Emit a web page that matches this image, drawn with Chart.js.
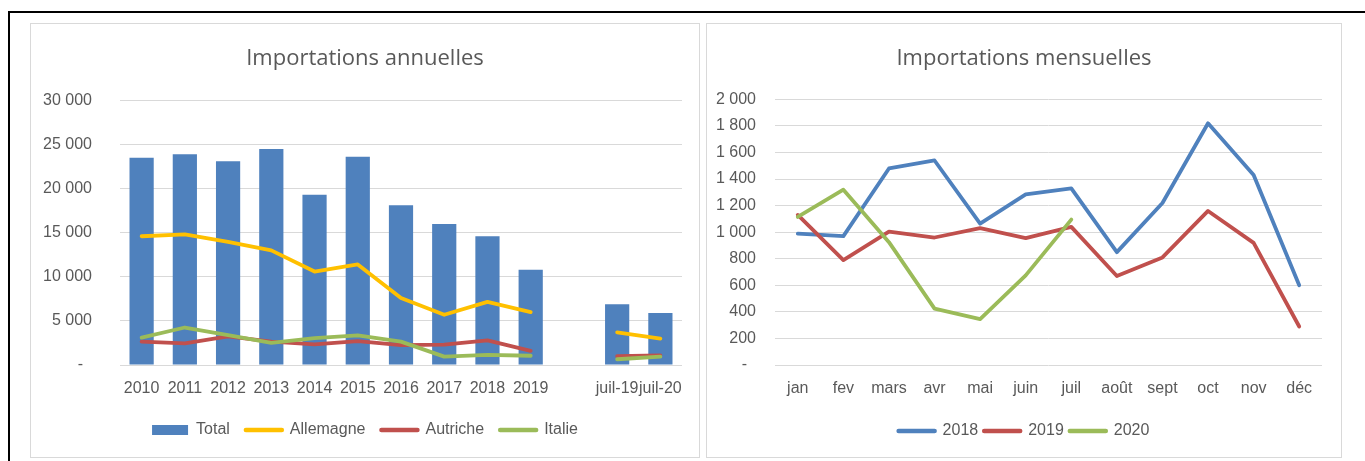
<!DOCTYPE html>
<html>
<head>
<meta charset="utf-8">
<script src="https://cdn.jsdelivr.net/npm/chart.js@4.4.0/dist/chart.umd.min.js"></script>
<style>
  html, body { margin: 0; padding: 0; background: #fff; }
  body { width: 1365px; height: 461px; overflow: hidden; position: relative; }
  .frame { position: absolute; left: 8px; top: 11px; width: 1420px; height: 520px; border: 2px solid #000; }
  .panel { position: absolute; top: 23px; height: 435px; border: 1px solid #d9d9d9; box-sizing: border-box; background: #fff; }
  .panel canvas { display: block; }
  #panelYear { left: 30px; width: 670px; }
  #panelMonth { left: 706px; width: 636px; }
</style>
</head>
<body>
<div class="frame"></div>
<div class="panel" id="panelYear"><canvas id="yearchart" width="668" height="433"></canvas></div>
<div class="panel" id="panelMonth"><canvas id="monthchart" width="634" height="433"></canvas></div>

<script>
// ==========================================================================
// Data
// ==========================================================================
var yearLabels = ['2010', '2011', '2012', '2013', '2014', '2015', '2016', '2017', '2018', '2019', '', 'juil-19', 'juil-20'];
var totalValues = [23500, 23900, 23100, 24500, 19300, 23600, 18100, 16000, 14600, 10800, null, 6900, 5900];
var allemagneValues = [14600, 14800, 13950, 13000, 10600, 11400, 7600, 5700, 7150, 6000, null, 3700, 3000];
var autricheValues = [2650, 2450, 3250, 2650, 2350, 2700, 2250, 2300, 2800, 1600, null, 1000, 1100];
var italieValues = [3100, 4250, 3400, 2500, 3050, 3350, 2650, 950, 1150, 1050, null, 650, 950];

var monthLabels = ['jan', 'fev', 'mars', 'avr', 'mai', 'juin', 'juil', 'août', 'sept', 'oct', 'nov', 'déc'];
var values2018 = [990, 970, 1480, 1540, 1065, 1285, 1330, 850, 1220, 1820, 1430, 600];
var values2019 = [1130, 790, 1005, 960, 1030, 955, 1040, 670, 810, 1160, 920, 290];
var values2020 = [1115, 1320, 925, 425, 345, 675, 1095];

// ==========================================================================
// Shared settings
// ==========================================================================
var blue = '#4f81bd',
    yellow = '#ffc000',
    red = '#c0504d',
    green = '#9bbb59',
    textColor = '#595959',
    gridColor = '#d9d9d9';

var tickFont = { family: "'Liberation Sans Narrow', 'Liberation Sans', sans-serif", size: 16 };
var titleFont = { family: "'Open Sans', sans-serif", size: 22, weight: 'normal' };

Chart.defaults.animation = false;
Chart.defaults.color = textColor;

function formatTick(v) {
  if (v === 0) return '-  ';
  return String(v).replace(/\B(?=(\d{3})+(?!\d))/g, ' ');
}

// legend keeps dataset order, bars as boxes and lines as thick strokes
function legendLabels(chart) {
  var items = Chart.defaults.plugins.legend.labels.generateLabels(chart);
  items.sort(function(a, b) { return a.datasetIndex - b.datasetIndex; });
  items.forEach(function(it) {
    var ds = chart.data.datasets[it.datasetIndex];
    if (ds.type === 'bar') {
      it.pointStyle = 'rect';
      it.lineWidth = 0;
    } else {
      it.pointStyle = 'line';
      it.lineWidth = 4.5;
      it.lineCap = 'round';
    }
  });
  return items;
}

function lineSet(label, data, color, order) {
  return {
    type: 'line',
    label: label,
    data: data,
    borderColor: color,
    backgroundColor: color,
    borderWidth: 3.8,
    borderCapStyle: 'round',
    borderJoinStyle: 'round',
    pointRadius: 0,
    tension: 0,
    order: order
  };
}

function buildOptions(cfg) {
  return {
    responsive: false,
    layout: { padding: { left: 0, right: 0, top: 0, bottom: cfg.padBottom } },
    plugins: {
      title: {
        display: true,
        text: cfg.title,
        color: textColor,
        font: titleFont,
        padding: { top: 22, bottom: cfg.titleBottom }
      },
      legend: {
        position: 'bottom',
        labels: {
          usePointStyle: true,
          pointStyleWidth: 36,
          boxHeight: 10,
          padding: cfg.legendPad,
          color: textColor,
          font: tickFont,
          generateLabels: legendLabels
        }
      },
      tooltip: { enabled: false }
    },
    scales: {
      x: {
        offset: true,
        grid: { display: false, drawTicks: false },
        border: { display: false },
        ticks: { autoSkip: false, maxRotation: 0, minRotation: 0, padding: 14, font: tickFont, color: textColor },
        afterFit: function(s) { s.height = cfg.xHeight; }
      },
      y: {
        min: 0,
        max: cfg.max,
        grid: { color: gridColor, lineWidth: 1, drawTicks: false },
        border: { display: false },
        ticks: { stepSize: cfg.step, padding: cfg.tickPad, font: tickFont, color: textColor, callback: formatTick },
        afterFit: function(s) { s.width = cfg.yWidth; }
      },
      y2: {
        type: 'linear',
        position: 'right',
        grid: { display: false, drawTicks: false },
        border: { display: false },
        ticks: { display: false },
        afterFit: function(s) { s.width = cfg.rightGap; }
      }
    }
  };
}

// ==========================================================================
// Annual chart
// ==========================================================================
var yearchart = new Chart(document.getElementById('yearchart'), {
  type: 'bar',
  data: {
    labels: yearLabels,
    datasets: [
      {
        type: 'bar',
        label: 'Total',
        data: totalValues,
        backgroundColor: blue,
        borderWidth: 0,
        categoryPercentage: 1,
        barPercentage: 0.56,
        order: 3
      },
      lineSet('Allemagne', allemagneValues, yellow, 2),
      lineSet('Autriche', autricheValues, red, 1),
      lineSet('Italie', italieValues, green, 0)
    ]
  },
  options: buildOptions({
    title: 'Importations annuelles',
    titleBottom: 28,
    padBottom: 9,
    legendPad: 16,
    xHeight: 41,
    max: 30000,
    step: 5000,
    tickPad: 28,
    yWidth: 89,
    rightGap: 17
  })
});

// ==========================================================================
// Monthly chart
// ==========================================================================
var monthchart = new Chart(document.getElementById('monthchart'), {
  type: 'line',
  data: {
    labels: monthLabels,
    datasets: [
      lineSet('2018', values2018, blue, 2),
      lineSet('2019', values2019, red, 1),
      lineSet('2020', values2020, green, 0)
    ]
  },
  options: buildOptions({
    title: 'Importations mensuelles',
    titleBottom: 27,
    padBottom: 8,
    legendPad: 6,
    xHeight: 52,
    max: 2000,
    step: 200,
    tickPad: 19,
    yWidth: 68,
    rightGap: 19
  })
});
</script>
</body>
</html>
